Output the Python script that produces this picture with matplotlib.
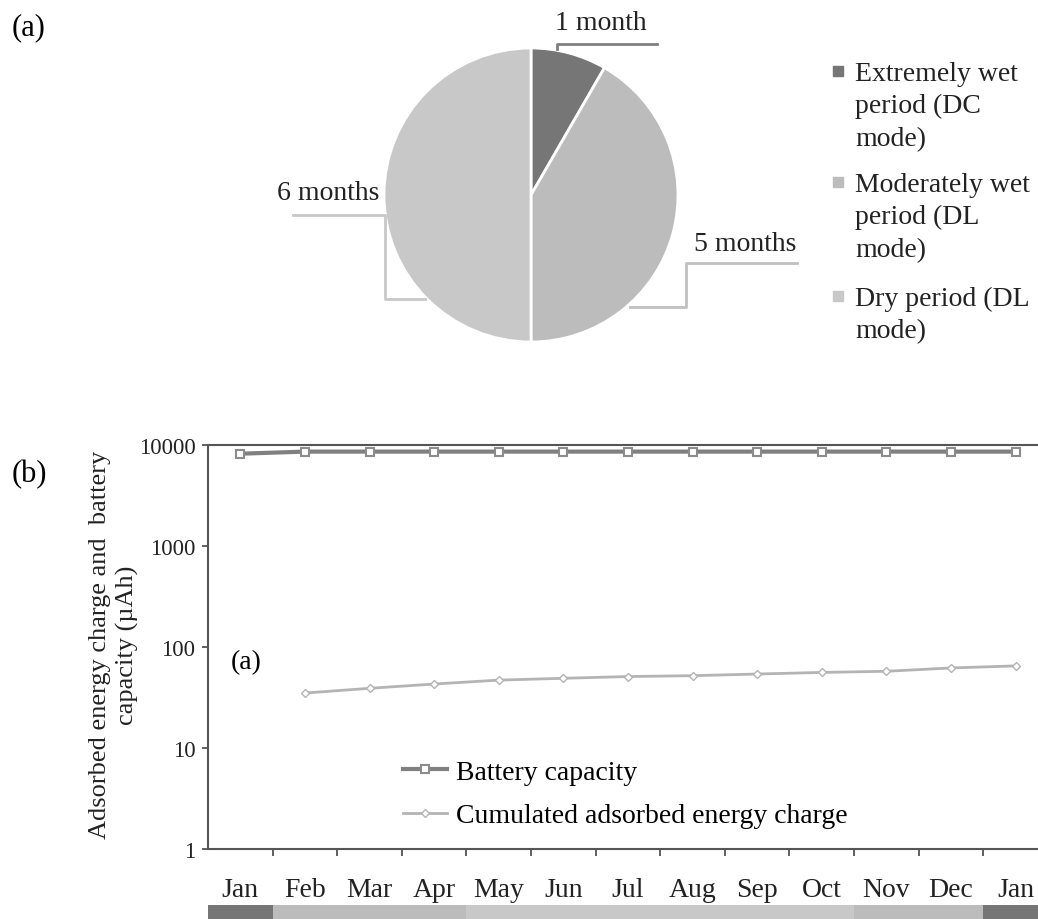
import numpy as np
import matplotlib
matplotlib.use("Agg")
import matplotlib.pyplot as plt
from matplotlib.lines import Line2D

plt.rcParams['font.family'] = ['Liberation Serif', 'DejaVu Serif']

# period breakdown of the year
periods = ['Extremely wet\nperiod (DC\nmode)', 'Moderately wet\nperiod (DL\nmode)', 'Dry period (DL\nmode)']
period_months = [1, 5, 6]
period_labels = ['1 month', '5 months', '6 months']
period_colors = ['#767676', '#bcbcbc', '#c8c8c8']

# monthly values
months = ['Jan', 'Feb', 'Mar', 'Apr', 'May', 'Jun', 'Jul', 'Aug', 'Sep', 'Oct', 'Nov', 'Dec', 'Jan']
battery = [8200, 8600, 8600, 8600, 8600, 8600, 8600, 8600, 8600, 8600, 8600, 8600, 8600]
cumulated = [np.nan, 35, 39, 43, 47, 49, 51, 52, 54, 56, 57.5, 62, 65]
month_period = [0, 1, 1, 1, 2, 2, 2, 2, 2, 2, 1, 1, 0]

W, H = 1038, 920
fig = plt.figure(figsize=(W / 100, H / 100), dpi=100)


def fig_box(x0, y0, x1, y1):
    # pixel box (top-left origin) -> figure fraction rect
    return [x0 / W, 1 - y1 / H, (x1 - x0) / W, (y1 - y0) / H]


# ---- (a) pie ----
cx, cy, r = 531, 196, 147
axp = fig.add_axes(fig_box(cx - r, cy - r, cx + r, cy + r))
axp.pie(period_months, colors=period_colors, startangle=90, counterclock=False,
        radius=1, wedgeprops=dict(edgecolor='white', linewidth=2))
axp.set_xlim(-1, 1)
axp.set_ylim(-1, 1)
axp.set_aspect('equal')
axp.axis('off')


def px(x, y):
    return (x - cx) / r, (cy - y) / r


leaders = [
    ([(557, 50), (557, 45), (657, 45)], (601, 23), '#7f7f7f'),
    ([(630, 308), (686, 308), (686, 264), (797, 264)], (745, 244), '#c0c0c0'),
    ([(293, 216), (385, 216), (385, 300), (425, 300)], (328, 193), '#c8c8c8'),
]
for lbl, (pts, tpos, col) in zip(period_labels, leaders):
    xs, ys = zip(*[px(*p) for p in pts])
    axp.plot(xs, ys, color=col, lw=2, clip_on=False)
    tx, ty = px(*tpos)
    axp.text(tx, ty, lbl, ha='center', va='center', fontsize=20, color='#222222')

# pie legend
legend_rows = [72, 183, 297]
for name, col, yc in zip(periods, period_colors, legend_rows):
    fig.text(855 / W, 1 - (yc - 10) / H, name, ha='left', va='top', fontsize=20,
             color='#222222', linespacing=1.38)
    fig.add_artist(Line2D([838 / W], [1 - yc / H], marker='s', markersize=7,
                          color=col, transform=fig.transFigure))

fig.text(12 / W, 1 - 28 / H, '(a)', ha='left', va='center', fontsize=22)
fig.text(12 / W, 1 - 475 / H, '(b)', ha='left', va='center', fontsize=22)

# ---- (b) log chart ----
step = 64.6
left = 208
right = left + 13 * step
ax = fig.add_axes(fig_box(left, 446, right, 850))
x = np.arange(len(months))
ax.plot(x, battery, color='#808080', lw=3, marker='s', ms=6, mfc='white',
        mec='#8c8c8c', mew=1.5, label='Battery capacity')
ax.plot(x, cumulated, color='#b4b4b4', lw=2, marker='D', ms=4, mfc='white',
        mec='#b4b4b4', mew=1, label='Cumulated adsorbed energy charge')
ax.set_yscale('log')
ax.set_ylim(1, 10000)
ax.set_xlim(-0.5, 12.5)
ax.set_yticks([1, 10, 100, 1000, 10000])
ax.set_yticklabels(['1', '10', '100', '1000', '10000'])
ax.yaxis.set_minor_locator(plt.NullLocator())
ax.set_xticks(x)
ax.set_xticklabels(months)
ax.set_xticks(np.arange(0.5, 12.5, 1), minor=True)
ax.tick_params(axis='x', which='major', length=0, pad=20, labelsize=20, labelcolor='#222222')
ax.tick_params(axis='x', which='minor', length=5, width=1.2, direction='out', color='#444444')
ax.tick_params(axis='y', length=4, width=1.2, pad=5, labelsize=16.5, labelcolor='#222222',
               color='#444444')
for s in ['left', 'bottom', 'top']:
    ax.spines[s].set_color('#555555')
    ax.spines[s].set_linewidth(1.5)
ax.spines['right'].set_visible(False)

fig.text(231 / W, 1 - 663 / H, '(a)', ha='left', va='center', fontsize=20)

ax.legend(loc='center left', bbox_to_anchor=(403 / W, 1 - 795 / H),
          bbox_transform=fig.transFigure, frameon=False, fontsize=20,
          handlelength=1.6, handletextpad=0.3, labelspacing=0.65,
          borderpad=0, borderaxespad=0)

fig.text(114 / W, 1 - 645 / H, 'Adsorbed energy charge and  battery\ncapacity (\u00b5Ah)',
         rotation=90, ha='center', va='center', fontsize=19, color='#222222',
         multialignment='center', linespacing=1.25)

# period strip under the months
axs = fig.add_axes(fig_box(left, 906, right, 920))
axs.bar(x, 1, width=1, color=[period_colors[p] for p in month_period], linewidth=0)
axs.set_xlim(-0.5, 12.5)
axs.set_ylim(0, 1)
axs.axis('off')

fig.savefig('out.png', dpi=100)
